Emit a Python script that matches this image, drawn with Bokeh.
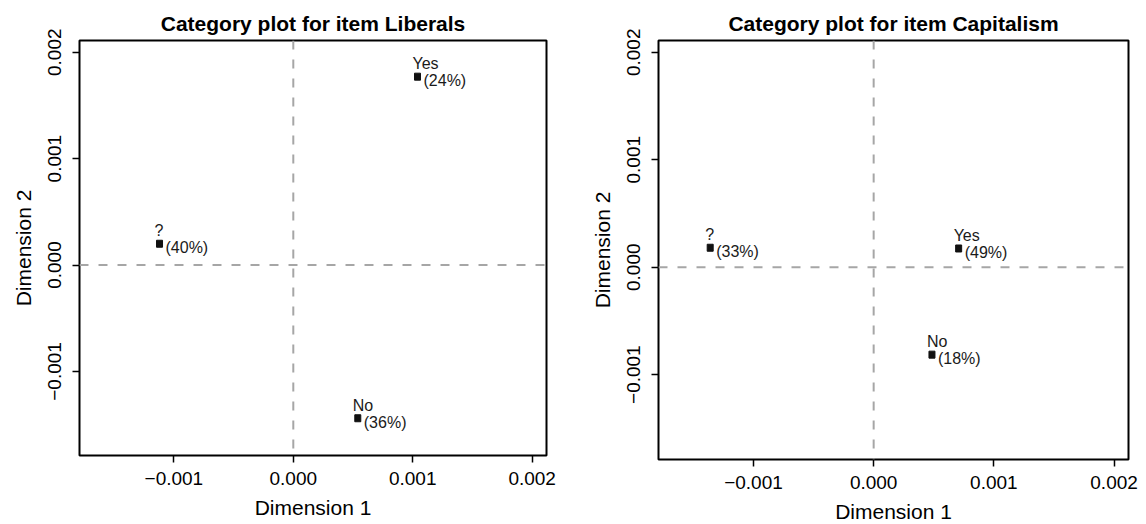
from bokeh.plotting import figure
from bokeh.layouts import row
from bokeh.models import Span, Range1d, FixedTicker, ColumnDataSource
from bokeh.core.properties import value
from bokeh.embed import file_html
from bokeh.resources import INLINE

# ---- data ----
titles = ["Category plot for item Liberals", "Category plot for item Capitalism"]
categories = ["?", "No", "Yes"]
lib_dim1 = [-0.00112, 0.00054, 0.00104]
lib_dim2 = [0.00020, -0.00144, 0.00177]
lib_pct = [40, 36, 24]
cap_dim1 = [-0.00136, 0.000485, 0.000707]
cap_dim2 = [0.000181, -0.000814, 0.000174]
cap_pct = [33, 18, 49]
x_ticks = [-0.001, 0.0, 0.001, 0.002]
x_tick_labels = ["\u22120.001", "0.000", "0.001", "0.002"]
y_ticks = [-0.001, 0.0, 0.001, 0.002]
y_tick_labels = ["\u22120.001", "0.000", "0.001", "0.002"]
x_label = "Dimension 1"
y_label = "Dimension 2"
x_lim = (-0.00179, 0.00212)
y_lim = (-0.00179, 0.00211)

FONT = "Liberation Sans"


def make_panel(title, xs, ys, pcts, fw, fh, bl, br, bt, bb):
    p = figure(frame_width=fw, frame_height=fh,
               x_range=Range1d(*x_lim), y_range=Range1d(*y_lim),
               output_backend="svg", toolbar_location=None,
               min_border_left=bl, min_border_right=br,
               min_border_top=bt, min_border_bottom=bb,
               background_fill_color="white", border_fill_color="white")
    p.title.text = title
    p.title.align = "center"
    p.title.text_font = FONT
    p.title.text_font_size = "21px"
    p.title.text_font_style = "bold"
    p.title.text_color = "black"
    p.title.standoff = 12

    p.xgrid.visible = False
    p.ygrid.visible = False
    p.outline_line_color = "black"
    p.outline_line_width = 2
    p.outline_line_alpha = 1

    p.xaxis.ticker = FixedTicker(ticks=x_ticks)
    p.yaxis.ticker = FixedTicker(ticks=y_ticks)
    p.xaxis.major_label_overrides = {t: l for t, l in zip(x_ticks, x_tick_labels)}
    p.yaxis.major_label_overrides = {t: l for t, l in zip(y_ticks, y_tick_labels)}
    p.yaxis.major_label_orientation = "vertical"
    for ax in (p.xaxis, p.yaxis):
        ax.axis_line_color = None
        ax.major_tick_out = 7
        ax.major_tick_in = 0
        ax.major_tick_line_color = "black"
        ax.major_tick_line_width = 1.5
        ax.minor_tick_line_color = None
        ax.major_label_text_font = FONT
        ax.major_label_text_font_size = "19px"
        ax.major_label_text_color = "black"
        ax.axis_label_text_font = FONT
        ax.axis_label_text_font_size = "21px"
        ax.axis_label_text_font_style = "normal"
        ax.axis_label_text_color = "black"
    p.xaxis.major_label_standoff = 9
    p.yaxis.major_label_standoff = 11
    p.xaxis.axis_label_standoff = 8
    p.yaxis.axis_label_standoff = 11
    p.xaxis.axis_label = x_label
    p.yaxis.axis_label = y_label

    p.add_layout(Span(location=0, dimension="height", line_color="#a6a6a6",
                      line_width=2, line_dash="9 10"))
    p.add_layout(Span(location=0, dimension="width", line_color="#a6a6a6",
                      line_width=2, line_dash="9 10"))

    src = ColumnDataSource(dict(x=xs, y=ys, cat=categories,
                                pct=["(%d%%)" % v for v in pcts]))
    p.rect(x="x", y="y", width=6, height=7, width_units="screen",
           height_units="screen", fill_color="#111111", line_color="#111111",
           source=src)
    p.text(x="x", y="y", text="cat", source=src, x_offset=-5, y_offset=-13,
           text_align="left", text_baseline="alphabetic",
           text_font=value(FONT), text_font_size=value("16px"), text_color="#1a1a1a")
    p.text(x="x", y="y", text="pct", source=src, x_offset=6, y_offset=4,
           text_align="left", text_baseline="middle",
           text_font=value(FONT), text_font_size=value("16px"), text_color="#1a1a1a")
    return p


p1 = make_panel(titles[0], lib_dim1, lib_dim2, lib_pct, 467, 415, 79, 27, 40, 69)
p2 = make_panel(titles[1], cap_dim1, cap_dim2, cap_pct, 470, 419, 85, 18, 39, 66)

p = row(p1, p2, spacing=0)
open("out.html", "w").write(file_html(p, INLINE))
